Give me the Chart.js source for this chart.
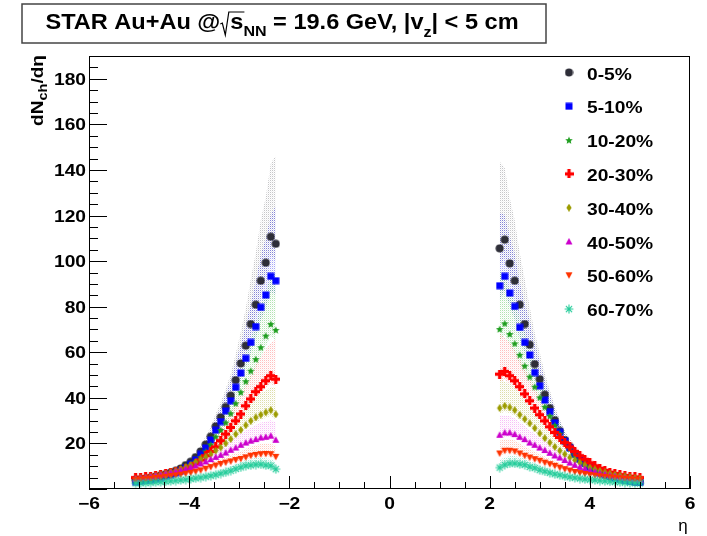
<!DOCTYPE html>
<html>
<head>
<meta charset="utf-8">
<script src="https://cdn.jsdelivr.net/npm/chart.js@4.4.1/dist/chart.umd.min.js"></script>
<style>
  html, body { margin: 0; padding: 0; background: #fff; }
  canvas { display: block; }
</style>
</head>
<body>
<canvas id="dndeta" width="707" height="536" style="width:707px;height:536px"></canvas>
<script>
// pseudorapidity bins (backward and forward coverage)
const etaLeft = [-2.27, -2.37, -2.47, -2.57, -2.67, -2.77, -2.87, -2.97, -3.07, -3.17, -3.27, -3.37, -3.47, -3.57, -3.67,
  -3.77, -3.87, -3.97, -4.07, -4.17, -4.27, -4.37, -4.47, -4.57, -4.67, -4.77, -4.87, -4.97, -5.07];
const etaRight = [2.2, 2.3, 2.4, 2.5, 2.6, 2.7, 2.8, 2.9, 3.0, 3.1, 3.2, 3.3, 3.4, 3.5, 3.6,
  3.7, 3.8, 3.9, 4.0, 4.1, 4.2, 4.3, 4.4, 4.5, 4.6, 4.7, 4.8, 4.9, 5.0];

// dNch/deta per centrality class, same bin order as the eta arrays
const cent0_5L = [107.6, 110.7, 99.3, 91.4, 80.9, 72.4, 62.9, 55.1, 47.8, 41.0, 36.0, 31.5, 27.5, 23.0, 19.5, 16.5, 14.0, 12.0, 10.5, 9.0, 8.0, 7.2, 6.5, 6.0, 5.5, 5.0, 4.5, 4.2, 4.0];
const cent0_5R = [105.6, 109.4, 99.0, 91.4, 80.9, 72.4, 63.3, 54.8, 48.2, 41.4, 35.5, 30.2, 25.5, 21.5, 18.5, 15.6, 13.3, 11.4, 9.8, 8.5, 7.4, 6.5, 5.7, 5.1, 4.6, 4.1, 3.7, 3.4, 3.1];
const cent5_10L = [91.4, 93.3, 85.1, 79.7, 71.3, 64.3, 57.3, 50.9, 44.6, 38.7, 34.3, 29.6, 25.8, 21.5, 18.0, 15.2, 12.8, 10.9, 9.4, 8.1, 7.1, 6.3, 5.6, 5.0, 4.5, 4.1, 3.8, 3.5, 3.2];
const cent5_10R = [89.2, 93.3, 86.0, 80.1, 70.9, 64.3, 58.8, 51.1, 45.3, 39.0, 34.0, 29.0, 24.8, 21.0, 18.0, 15.2, 13.0, 11.2, 9.6, 8.3, 7.2, 6.3, 5.5, 4.9, 4.3, 3.8, 3.4, 3.1, 2.9];
const cent10_20L = [69.8, 72.4, 67.3, 62.2, 57.0, 51.9, 47.3, 42.5, 37.6, 33.2, 29.2, 25.9, 23.0, 19.5, 16.5, 14.0, 12.0, 10.5, 9.2, 8.2, 7.3, 6.6, 6.0, 5.5, 5.1, 4.7, 4.4, 4.1, 3.8];
const cent10_20R = [70.2, 72.7, 68.0, 63.9, 58.9, 54.1, 49.3, 44.9, 40.2, 36.1, 32.1, 28.0, 24.3, 20.8, 17.8, 15.2, 13.0, 11.2, 9.8, 8.6, 7.6, 6.8, 6.1, 5.5, 5.0, 4.6, 4.2, 3.9, 3.6];
const cent20_30L = [48.2, 49.7, 47.5, 44.9, 42.7, 39.5, 36.5, 32.9, 29.9, 27.0, 24.1, 21.2, 18.5, 16.5, 14.6, 12.7, 11.2, 9.8, 8.9, 8.2, 7.6, 7.1, 6.7, 6.3, 6.0, 5.7, 5.4, 5.2, 5.0];
const cent20_30R = [50.4, 51.6, 49.7, 47.5, 44.9, 41.7, 38.7, 35.5, 32.6, 29.9, 27.3, 24.8, 22.6, 20.4, 18.5, 16.5, 14.6, 13.0, 11.5, 10.2, 9.1, 8.2, 7.4, 6.8, 6.3, 5.9, 5.6, 5.3, 5.0];
const cent30_40L = [32.8, 34.6, 33.6, 32.6, 31.4, 29.9, 28.0, 25.9, 24.1, 21.9, 20.0, 18.2, 16.8, 15.3, 14.1, 13.0, 11.8, 10.6, 9.6, 8.8, 8.0, 7.4, 6.8, 6.3, 5.8, 5.4, 5.0, 4.7, 4.4];
const cent30_40R = [35.5, 36.5, 35.8, 34.6, 32.6, 30.7, 28.8, 26.7, 24.4, 22.3, 20.4, 18.5, 16.8, 15.3, 13.8, 12.7, 11.5, 10.4, 9.4, 8.6, 7.9, 7.3, 6.8, 6.3, 5.9, 5.5, 5.2, 4.9, 4.6];
const cent40_50L = [21.6, 23.4, 22.9, 22.6, 21.9, 21.2, 20.4, 19.4, 18.2, 17.2, 16.0, 15.0, 14.1, 13.1, 12.1, 11.2, 10.3, 9.6, 8.9, 8.3, 7.7, 7.2, 6.7, 6.2, 5.8, 5.4, 5.0, 4.7, 4.4];
const cent40_50R = [23.8, 24.8, 24.8, 24.1, 22.9, 21.9, 20.4, 19.4, 18.2, 17.1, 15.9, 14.7, 13.8, 12.7, 11.6, 10.6, 9.7, 8.9, 8.2, 7.6, 7.0, 6.5, 6.0, 5.6, 5.2, 4.9, 4.6, 4.3, 4.0];
const cent50_60L = [14.1, 15.3, 15.4, 15.3, 15.0, 14.6, 13.9, 13.2, 12.7, 12.1, 11.6, 11.0, 10.3, 9.6, 8.9, 8.2, 7.6, 7.1, 6.7, 6.3, 6.0, 5.7, 5.4, 5.1, 4.8, 4.5, 4.3, 4.1, 3.9];
const cent50_60R = [15.6, 16.8, 16.8, 16.5, 15.6, 14.6, 13.8, 13.1, 12.4, 11.6, 10.9, 10.2, 9.4, 8.7, 8.1, 7.5, 7.0, 6.6, 6.2, 5.9, 5.6, 5.3, 5.1, 4.9, 4.7, 4.5, 4.3, 4.1, 3.9];
const cent60_70L = [8.7, 10.2, 10.4, 10.8, 10.7, 10.4, 10.2, 9.5, 8.8, 8.0, 7.3, 6.8, 6.2, 5.8, 5.4, 5.0, 4.7, 4.4, 4.1, 3.9, 3.7, 3.5, 3.3, 3.1, 3.0, 2.8, 2.7, 2.6, 2.5];
const cent60_70R = [9.4, 10.6, 11.2, 11.2, 10.9, 10.6, 9.7, 9.2, 8.3, 7.7, 7.1, 6.5, 6.1, 5.6, 5.2, 4.9, 4.6, 4.3, 4.1, 3.9, 3.7, 3.5, 3.3, 3.1, 3.0, 2.8, 2.7, 2.6, 2.5];

// relative systematic uncertainty (upper / lower) per |eta| bin
const sysHigh = [0.36, 0.29, 0.29, 0.29, 0.28, 0.27, 0.26, 0.25, 0.24, 0.23, 0.22, 0.21, 0.20, 0.19, 0.18,
  0.17, 0.16, 0.15, 0.15, 0.14, 0.14, 0.13, 0.13, 0.12, 0.12, 0.12, 0.11, 0.11, 0.11];
const sysLow = [0.07, 0.07, 0.07, 0.07, 0.07, 0.07, 0.06, 0.06, 0.06, 0.06, 0.06, 0.06, 0.06, 0.06, 0.06,
  0.05, 0.05, 0.05, 0.05, 0.05, 0.05, 0.05, 0.05, 0.05, 0.05, 0.05, 0.05, 0.05, 0.05];

const FONT = '"Liberation Sans", Arial, Helvetica, sans-serif';

function makeMarker(shape, color, s) {
  const c = document.createElement('canvas');
  c.width = s;
  c.height = s;
  const g = c.getContext('2d');
  const m = s / 2;
  g.fillStyle = color;
  g.strokeStyle = color;
  g.beginPath();
  if (shape === 'circle') {
    g.arc(m, m, m - 0.5, 0, Math.PI * 2);
    g.fill();
  } else if (shape === 'square') {
    g.fillRect(0.5, 0.5, s - 1, s - 1);
  } else if (shape === 'star') {
    for (let i = 0; i < 10; i++) {
      const r = i % 2 ? m * 0.45 : m;
      const a = -Math.PI / 2 + (i * Math.PI) / 5;
      g.lineTo(m + r * Math.cos(a), m + 0.5 + r * Math.sin(a));
    }
    g.closePath();
    g.fill();
  } else if (shape === 'plus') {
    const w = s * 0.36;
    g.fillRect(m - w / 2, 0, w, s);
    g.fillRect(0, m - w / 2, s, w);
  } else if (shape === 'diamond') {
    g.moveTo(m, 0);
    g.lineTo(m + s * 0.33, m);
    g.lineTo(m, s);
    g.lineTo(m - s * 0.33, m);
    g.closePath();
    g.fill();
  } else if (shape === 'triUp') {
    g.moveTo(m, 0.5);
    g.lineTo(s - 0.5, s - 1);
    g.lineTo(0.5, s - 1);
    g.closePath();
    g.fill();
  } else if (shape === 'triDown') {
    g.moveTo(0.5, 1);
    g.lineTo(s - 0.5, 1);
    g.lineTo(m, s - 0.5);
    g.closePath();
    g.fill();
  } else if (shape === 'asterisk') {
    g.lineWidth = 1.1;
    for (let i = 0; i < 4; i++) {
      const a = (i * Math.PI) / 4;
      g.moveTo(m - (m - 0.6) * Math.cos(a), m - (m - 0.6) * Math.sin(a));
      g.lineTo(m + (m - 0.6) * Math.cos(a), m + (m - 0.6) * Math.sin(a));
    }
    g.stroke();
  }
  return c;
}

function dotPattern(rgb) {
  const c = document.createElement('canvas');
  c.width = 2;
  c.height = 2;
  const g = c.getContext('2d');
  g.fillStyle = `rgba(${rgb},0.42)`;
  g.fillRect(0, 0, 1, 1);
  g.fillStyle = `rgba(${rgb},0.1)`;
  g.fillRect(1, 1, 1, 1);
  return g.createPattern(c, 'repeat');
}

const SERIES = [
  { label: '0-5%', left: cent0_5L, right: cent0_5R, shape: 'circle', color: '#2e2e38', band: '120,120,125', size: 9 },
  { label: '5-10%', left: cent5_10L, right: cent5_10R, shape: 'square', color: '#0000ff', band: '40,40,230', size: 8 },
  { label: '10-20%', left: cent10_20L, right: cent10_20R, shape: 'star', color: '#1e9e1e', band: '70,185,70', size: 8 },
  { label: '20-30%', left: cent20_30L, right: cent20_30R, shape: 'plus', color: '#ff0000', band: '255,100,100', size: 9 },
  { label: '30-40%', left: cent30_40L, right: cent30_40R, shape: 'diamond', color: '#9c9c00', band: '175,175,50', size: 8 },
  { label: '40-50%', left: cent40_50L, right: cent40_50R, shape: 'triUp', color: '#cc00cc', band: '235,100,235', size: 8 },
  { label: '50-60%', left: cent50_60L, right: cent50_60R, shape: 'triDown', color: '#ff3300', band: '255,130,100', size: 8 },
  { label: '60-70%', left: cent60_70L, right: cent60_70R, shape: 'asterisk', color: '#22cc99', band: '50,205,165', size: 10 },
];
SERIES.forEach((s) => { s.img = makeMarker(s.shape, s.color, s.size); });

const datasets = [];
SERIES.forEach((s, i) => {
  const pat = dotPattern(s.band);
  [[etaLeft, s.left], [etaRight, s.right]].forEach(([eta, vals]) => {
    const base = { borderWidth: 0, borderColor: 'transparent', pointRadius: 0, order: 100 + 8 - i };
    datasets.push({ ...base, fill: false, data: eta.map((x, k) => ({ x, y: vals[k] * (1 - sysLow[k]) })) });
    datasets.push({ ...base, fill: '-1', backgroundColor: pat, data: eta.map((x, k) => ({ x, y: vals[k] * (1 + sysHigh[k]) })) });
  });
});
SERIES.forEach((s, i) => {
  const pts = etaLeft.map((x, k) => ({ x, y: s.left[k] }))
    .concat(etaRight.map((x, k) => ({ x, y: s.right[k] })));
  datasets.push({ label: s.label, data: pts, showLine: false, pointStyle: s.img, pointRadius: 4, order: 8 - i });
});

// text helper: ROOT-like bold Helvetica, slightly wide
function rich(ctx, parts, x, y, align, sx) {
  let w = 0;
  parts.forEach((p) => {
    if (p.gap) { w += p.gap; return; }
    ctx.font = `${p.bold === false ? '' : 'bold '}${p.size}px ${FONT}`;
    p.w = ctx.measureText(p.t).width * sx;
    w += p.w;
  });
  let cx = align === 'center' ? x - w / 2 : align === 'right' ? x - w : x;
  parts.forEach((p) => {
    p.x = cx;
    if (p.gap) { cx += p.gap; return; }
    ctx.font = `${p.bold === false ? '' : 'bold '}${p.size}px ${FONT}`;
    ctx.save();
    ctx.translate(cx, y + (p.dy || 0));
    ctx.scale(sx, 1);
    ctx.textAlign = 'left';
    ctx.textBaseline = 'alphabetic';
    ctx.fillText(p.t, 0, 0);
    ctx.restore();
    cx += p.w;
  });
  return parts;
}

const rootStyle = {
  id: 'rootStyle',
  afterDraw(chart) {
    const { ctx, chartArea: a } = chart;
    const xs = chart.scales.x;
    const ys = chart.scales.y;
    ctx.save();
    ctx.fillStyle = '#000';
    ctx.strokeStyle = '#000';
    ctx.lineWidth = 1;

    // frame
    ctx.strokeRect(Math.round(a.left) + 0.5, Math.round(a.top) + 0.5,
      Math.round(a.right - a.left) - 1, Math.round(a.bottom - a.top) - 1);

    // inward ticks
    ctx.beginPath();
    for (let i = 0; i <= 24; i++) {
      const v = -6 + i * 0.5;
      const px = Math.round(xs.getPixelForValue(v)) + 0.5;
      const len = i % 4 === 0 ? 13 : 7;
      ctx.moveTo(px, a.bottom);
      ctx.lineTo(px, a.bottom - len);
    }
    for (let i = 0; i <= 38; i++) {
      const v = i * 5;
      const py = Math.round(ys.getPixelForValue(v)) + 0.5;
      const len = i % 4 === 0 ? 18 : 9;
      ctx.moveTo(a.left, py);
      ctx.lineTo(a.left + len, py);
    }
    ctx.stroke();

    // tick labels
    xs.ticks.forEach((t) => {
      const lbl = t.value < 0 ? '\u2212' + Math.abs(t.value) : String(t.value);
      rich(ctx, [{ t: lbl, size: 16 }], xs.getPixelForValue(t.value), 509, 'center', 1.2);
    });
    ys.ticks.forEach((t) => {
      if (t.value <= 0 || t.value % 20 !== 0) return;
      rich(ctx, [{ t: String(t.value), size: 16 }], 86, ys.getPixelForValue(t.value) + 6, 'right', 1.2);
    });

    // axis titles
    rich(ctx, [{ t: '\u03b7', size: 17, bold: false }], 683, 531, 'center', 1.0);
    ctx.save();
    ctx.translate(43, 55);
    ctx.rotate(-Math.PI / 2);
    rich(ctx, [{ t: 'dN', size: 17 }, { t: 'ch', size: 13, dy: 4 }, { t: '/d\u03b7', size: 17 }], 0, 0, 'right', 1.12);
    ctx.restore();

    // title box
    ctx.fillStyle = '#fff';
    ctx.fillRect(22, 4, 524, 39);
    ctx.strokeStyle = '#444';
    ctx.lineWidth = 1.5;
    ctx.strokeRect(22, 4, 524, 39);
    ctx.fillStyle = '#000';
    const tp = rich(ctx, [
      { t: 'STAR Au+Au @', size: 22 },
      { gap: 10 },
      { t: 's', size: 22 },
      { t: 'NN', size: 15, dy: 7 },
      { t: ' = 19.6 GeV, |v', size: 22 },
      { t: 'z', size: 15, dy: 8 },
      { t: '| < 5 cm', size: 22 },
    ], 282, 29, 'center', 1.07);
    const rx = tp[1].x;
    ctx.strokeStyle = '#000';
    ctx.lineWidth = 1.2;
    ctx.beginPath();
    ctx.moveTo(rx, 24);
    ctx.lineTo(rx + 2, 23);
    ctx.lineTo(rx + 5, 35);
    ctx.lineTo(rx + 8.5, 12);
    ctx.lineTo(tp[3].x + 1, 12);
    ctx.stroke();

    // legend
    SERIES.forEach((s, i) => {
      const cy = 72.5 + i * 33.8;
      ctx.drawImage(s.img, 569 - s.img.width / 2, cy - s.img.height / 2);
      rich(ctx, [{ t: s.label, size: 16 }], 587, cy + 7, 'left', 1.2);
    });
    ctx.restore();
  },
};

new Chart(document.getElementById('dndeta').getContext('2d'), {
  type: 'line',
  data: { datasets },
  options: {
    responsive: false,
    animation: false,
    events: [],
    layout: { padding: { top: 56, right: 17, left: 0, bottom: 0 } },
    elements: { line: { tension: 0 } },
    scales: {
      x: {
        type: 'linear',
        min: -6,
        max: 6,
        ticks: { display: false, stepSize: 2 },
        grid: { display: false, drawTicks: false },
        border: { display: false },
        afterFit(scale) { scale.height = 47; },
      },
      y: {
        type: 'linear',
        min: 0,
        max: 190,
        ticks: { display: false, stepSize: 20 },
        grid: { display: false, drawTicks: false },
        border: { display: false },
        afterFit(scale) { scale.width = 89; },
      },
    },
    plugins: {
      legend: { display: false },
      tooltip: { enabled: false },
    },
  },
  plugins: [rootStyle],
});
</script>
</body>
</html>
